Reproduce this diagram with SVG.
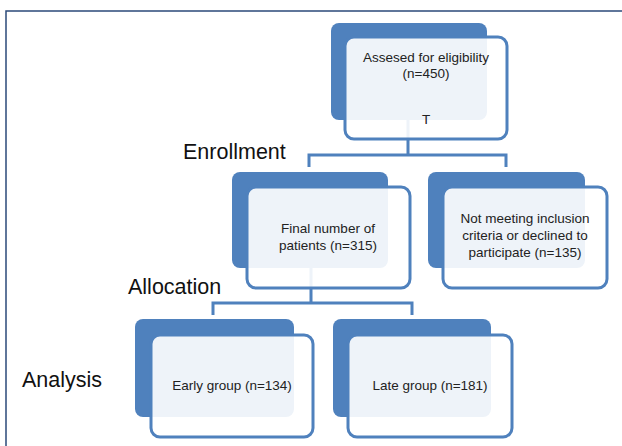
<svg xmlns="http://www.w3.org/2000/svg" width="622" height="446" viewBox="0 0 622 446">
<style>
.back{fill:#4F81BD}
.front{fill:#FFFFFF;fill-opacity:0.9;stroke:#4F81BD;stroke-width:3}
.conn{fill:none;stroke:#4F81BD;stroke-width:3}
.t{font-family:"Liberation Sans",Arial,sans-serif;font-size:13.5px;fill:#222;text-anchor:middle}
.lbl{font-family:"Liberation Sans",Arial,sans-serif;font-size:21.5px;fill:#111}
</style>
<rect x="0" y="0" width="622" height="446" fill="#FFFFFF"/>
<rect x="6" y="11" width="700" height="500" fill="none" stroke="#2B4A7A" stroke-width="1.5"/>
<g id="labels">
<text class="lbl" x="183" y="159">Enrollment</text>
<text class="lbl" x="128" y="294">Allocation</text>
<text class="lbl" x="22" y="387">Analysis</text>
</g>
<g id="back-shapes">
<rect class="back" x="331" y="23" width="156" height="97" rx="8"/>
<rect class="back" x="232" y="172" width="156" height="96" rx="8"/>
<rect class="back" x="428" y="172" width="157" height="96" rx="8"/>
<rect class="back" x="135" y="319" width="159" height="98" rx="8"/>
<rect class="back" x="333" y="319" width="158" height="98" rx="8"/>
</g>
<g id="connectors">
<path class="conn" d="M408,120 V155 M309,167 V155 H506 V167"/>
<path class="conn" d="M311,268 V303 M213,315 V303 H412 V315"/>
</g>
<g id="n-assessed">
<rect class="front" x="345" y="37" width="162" height="102" rx="9"/>
<text class="t" x="426" y="62">Assesed for eligibility</text>
<text class="t" x="426" y="78">(n=450)</text>
<text class="t" x="426" y="124">T</text>
</g>
<g id="n-final">
<rect class="front" x="247" y="187" width="163" height="101" rx="9"/>
<text class="t" x="328" y="233">Final number of</text>
<text class="t" x="328" y="250">patients (n=315)</text>
</g>
<g id="n-excluded">
<rect class="front" x="443" y="187" width="164" height="101" rx="9"/>
<text class="t" x="525" y="223">Not meeting inclusion</text>
<text class="t" x="525" y="240">criteria or declined to</text>
<text class="t" x="525" y="257">participate (n=135)</text>
</g>
<g id="n-early">
<rect class="front" x="151" y="335" width="162" height="102" rx="9"/>
<text class="t" x="232" y="390">Early group (n=134)</text>
</g>
<g id="n-late">
<rect class="front" x="348" y="335" width="164" height="102" rx="9"/>
<text class="t" x="430" y="390">Late group (n=181)</text>
</g>
</svg>
